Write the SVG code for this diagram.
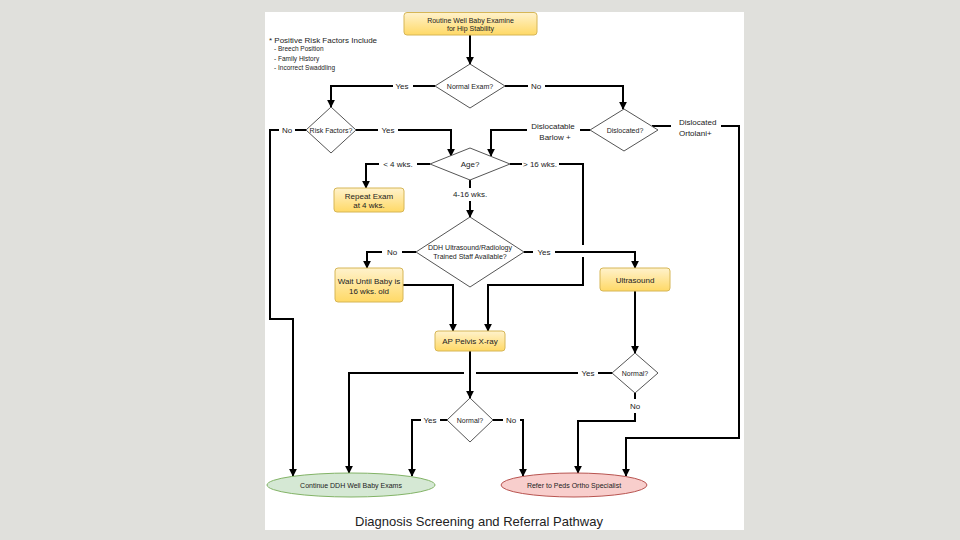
<svg xmlns="http://www.w3.org/2000/svg" width="960" height="540" viewBox="0 0 960 540">
<defs>
<linearGradient id="og" x1="0" y1="0" x2="0" y2="1"><stop offset="0" stop-color="#fff2cc"/><stop offset="1" stop-color="#ffd966"/></linearGradient>
<marker id="arr" viewBox="0 0 10 10" refX="9" refY="5" markerWidth="8" markerHeight="8" markerUnits="userSpaceOnUse" orient="auto"><path d="M0,0 L10,5 L0,10 z" fill="#000"/></marker>
<style>
text{font-family:"Liberation Sans",Arial,sans-serif;fill:#222;text-anchor:middle}
.box{fill:url(#og);stroke:#d6b656;stroke-width:1}
.dia{fill:#fff;stroke:#555;stroke-width:1}
.c{fill:none;stroke:#000;stroke-width:2;marker-end:url(#arr)}
.cn{fill:none;stroke:#000;stroke-width:2}
.lb{fill:#fff}
.s7{font-size:7px}
.s8{font-size:8px}
</style>
</defs>
<rect width="960" height="540" fill="#e0e0dc"/>
<rect x="265" y="12" width="479" height="518" fill="#fff"/>

<g id="notes">
<text x="269" y="43" class="s8" style="text-anchor:start">* Positive Risk Factors Include</text>
<text x="274" y="51" style="text-anchor:start;font-size:6.5px">- Breech Position</text>
<text x="274" y="60.5" style="text-anchor:start;font-size:6.5px">- Family History</text>
<text x="274" y="70" style="text-anchor:start;font-size:6.5px">- Incorrect Swaddling</text>
</g>

<g id="connectors">
<path class="c" d="M470,35 V64"/>
<path class="c" d="M435,86 H331 V107"/>
<path class="c" d="M505,86 H623 V109"/>
<path class="c" d="M306,130 H270 V319 H293 V476"/>
<path class="c" d="M356,130 H451 V156"/>
<path class="c" d="M590,130 H491 V156"/>
<path class="c" d="M652,126 H739 V438 H626 V476"/>
<path class="c" d="M430,164 H366 V188"/>
<path class="cn" d="M510,164 H583 V245"/>
<path class="c" d="M583,257 V285 H488 V331"/>
<path class="c" d="M470,180 V217"/>
<path class="c" d="M416,252 H367 V268"/>
<path class="c" d="M524,252 H635 V268"/>
<path class="c" d="M403,285 H453 V331"/>
<path class="c" d="M635,291 V353"/>
<path class="cn" d="M612,373 H476"/>
<path class="c" d="M464,373 H349 V473"/>
<path class="c" d="M635,393 V421 H578 V473"/>
<path class="c" d="M470,351 V398"/>
<path class="c" d="M447,420 H412 V476"/>
<path class="c" d="M493,420 H523 V476"/>
<!-- labels -->
<rect class="lb" x="393" y="80" width="20" height="12"/><text x="402" y="89" class="s8">Yes</text>
<rect class="lb" x="528" y="80" width="17" height="12"/><text x="536" y="89" class="s8">No</text>
<rect class="lb" x="279" y="124" width="16" height="12"/><text x="287" y="133" class="s8">No</text>
<rect class="lb" x="378" y="124" width="20" height="12"/><text x="388" y="133" class="s8">Yes</text>
<rect class="lb" x="527" y="119" width="53" height="23"/><text x="553" y="129" class="s8">Dislocatable</text><text x="555" y="140" class="s8">Barlow +</text>
<rect class="lb" x="671" y="116" width="50" height="23"/><text x="679" y="125" class="s8" style="text-anchor:start">Dislocated</text><text x="679" y="136" class="s8" style="text-anchor:start">Ortolani+</text>
<rect class="lb" x="379" y="158" width="38" height="12"/><text x="398" y="167" class="s8">&lt; 4 wks.</text>
<rect class="lb" x="522" y="158" width="37" height="12"/><text x="540" y="167" class="s8">&gt; 16 wks.</text>
<rect class="lb" x="450" y="188" width="40" height="13"/><text x="470" y="197" class="s8">4-16 wks.</text>
<rect class="lb" x="382" y="246" width="20" height="12"/><text x="392" y="255" class="s8">No</text>
<rect class="lb" x="533" y="246" width="22" height="12"/><text x="544" y="255" class="s8">Yes</text>
<rect class="lb" x="578" y="367" width="20" height="12"/><text x="588" y="376" class="s8">Yes</text>
<rect class="lb" x="627" y="399" width="16" height="14"/><text x="635" y="409" class="s8">No</text>
<rect class="lb" x="421" y="414" width="19" height="12"/><text x="430" y="423" class="s8">Yes</text>
<rect class="lb" x="503" y="414" width="17" height="12"/><text x="511" y="423" class="s8">No</text>
</g>

<g id="start"><rect class="box" x="404" y="12.5" width="133" height="22.5" rx="3"/><text x="470.5" y="23" class="s7">Routine Well Baby Examine</text><text x="470.5" y="30.5" class="s7">for Hip Stability</text></g>
<g id="normal-exam"><polygon class="dia" points="470,64 505,86 470,108 435,86"/><text x="470" y="88.5" class="s7">Normal Exam?</text></g>
<g id="risk-factors"><polygon class="dia" points="331,107 356,130 331,153 306,130"/><text x="331" y="132.5" class="s7">Risk Factors?</text></g>
<g id="dislocated"><polygon class="dia" points="624,109 658,130 624,151 590,130"/><text x="625" y="132.5" class="s7">Dislocated?</text></g>
<g id="age"><polygon class="dia" points="470,148 510,164 470,180 430,164"/><text x="470" y="167" class="s8">Age?</text></g>
<g id="repeat-exam"><rect class="box" x="334" y="188" width="70" height="24" rx="3"/><text x="369" y="199" class="s8">Repeat Exam</text><text x="369" y="207.5" class="s8">at 4 wks.</text></g>
<g id="ddh-staff"><polygon class="dia" points="470,217 524,252 470,287 416,252"/><text x="470" y="250" class="s7">DDH Ultrasound/Radiology</text><text x="470" y="258.5" class="s7">Trained Staff Available?</text></g>
<g id="wait"><rect class="box" x="335" y="268" width="68" height="34" rx="3"/><text x="369" y="284" class="s8">Wait Until Baby is</text><text x="369" y="293.5" class="s8">16 wks. old</text></g>
<g id="ultrasound"><rect class="box" x="600" y="268" width="70" height="23" rx="3"/><text x="635" y="282.5" class="s8">Ultrasound</text></g>
<g id="ap-pelvis"><rect class="box" x="435" y="331" width="70" height="20" rx="3"/><text x="470" y="344" class="s8">AP Pelvis X-ray</text></g>
<g id="normal-us"><polygon class="dia" points="635,353 658,373 635,393 612,373"/><text x="635" y="375.5" class="s7">Normal?</text></g>
<g id="normal-xray"><polygon class="dia" points="470,398 493,420 470,442 447,420"/><text x="470" y="422.5" class="s7">Normal?</text></g>
<g id="continue"><ellipse cx="351" cy="485" rx="84" ry="12" fill="#d5e8d4" stroke="#82b366" stroke-width="1"/><text x="351" y="487.5" class="s7">Continue DDH Well Baby Exams</text></g>
<g id="refer"><ellipse cx="574" cy="485" rx="73" ry="12" fill="#f8cecc" stroke="#b85450" stroke-width="1"/><text x="574" y="487.5" class="s7">Refer to Peds Ortho Specialist</text></g>

<text x="479" y="526" style="font-size:13px">Diagnosis Screening and Referral Pathway</text>
</svg>
